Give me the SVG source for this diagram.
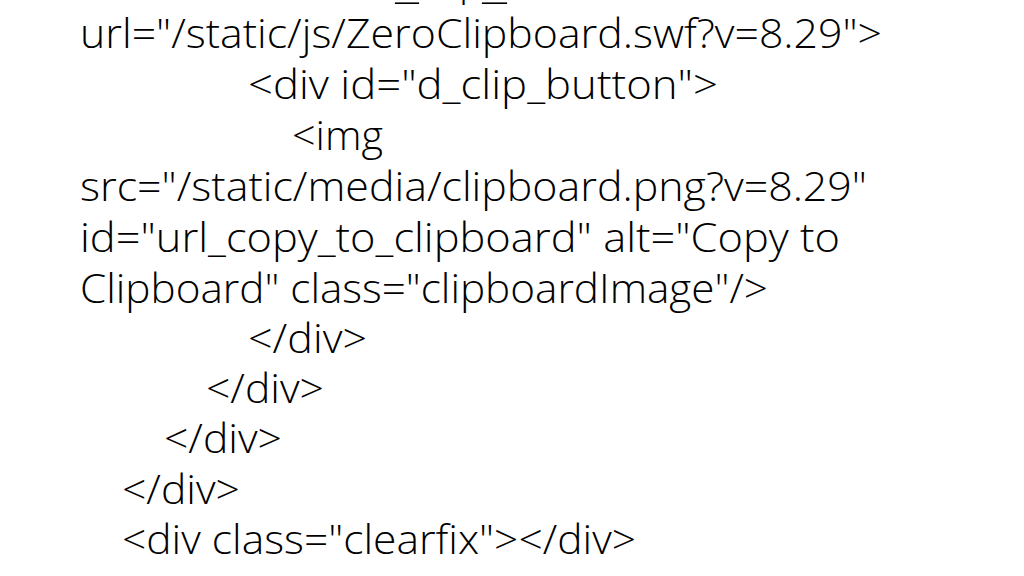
<svg xmlns="http://www.w3.org/2000/svg" width="1024" height="576" viewBox="0 0 1024 576">
  <style>
    .t { font-family: "Open Sans", "Liberation Sans", sans-serif; font-weight: 300; font-size: 40px; fill: #000000; }
  </style>
  <rect width="1024" height="576" fill="#ffffff"/>
  <g id="code">
    <text class="t"><tspan x="395" y="-1" textLength="24" lengthAdjust="spacingAndGlyphs">_</tspan><tspan x="459" y="-5">p</tspan><tspan x="482" y="-1" textLength="25" lengthAdjust="spacingAndGlyphs">_</tspan></text>
    <text class="t" x="80" y="48" textLength="802" lengthAdjust="spacingAndGlyphs">url="/static/js/ZeroClipboard.swf?v=8.29"&gt;</text>
    <text class="t" x="248" y="99" textLength="470" lengthAdjust="spacingAndGlyphs">&lt;div id="d_clip_button"&gt;</text>
    <text class="t" x="292" y="150" textLength="91" lengthAdjust="spacingAndGlyphs">&lt;img</text>
    <text class="t" x="80" y="201" textLength="787" lengthAdjust="spacingAndGlyphs">src="/static/media/clipboard.png?v=8.29"</text>
    <text class="t" x="80" y="252" textLength="760" lengthAdjust="spacingAndGlyphs">id="url_copy_to_clipboard" alt="Copy to</text>
    <text class="t" x="80" y="303" textLength="688" lengthAdjust="spacingAndGlyphs">Clipboard" class="clipboardImage"/&gt;</text>
    <text class="t" x="248" y="353" textLength="119" lengthAdjust="spacingAndGlyphs">&lt;/div&gt;</text>
    <text class="t" x="206" y="403" textLength="118" lengthAdjust="spacingAndGlyphs">&lt;/div&gt;</text>
    <text class="t" x="164" y="453" textLength="118" lengthAdjust="spacingAndGlyphs">&lt;/div&gt;</text>
    <text class="t" x="122" y="504" textLength="118" lengthAdjust="spacingAndGlyphs">&lt;/div&gt;</text>
    <text class="t" x="122" y="554" textLength="514" lengthAdjust="spacingAndGlyphs">&lt;div class="clearfix"&gt;&lt;/div&gt;</text>
  </g>
</svg>
